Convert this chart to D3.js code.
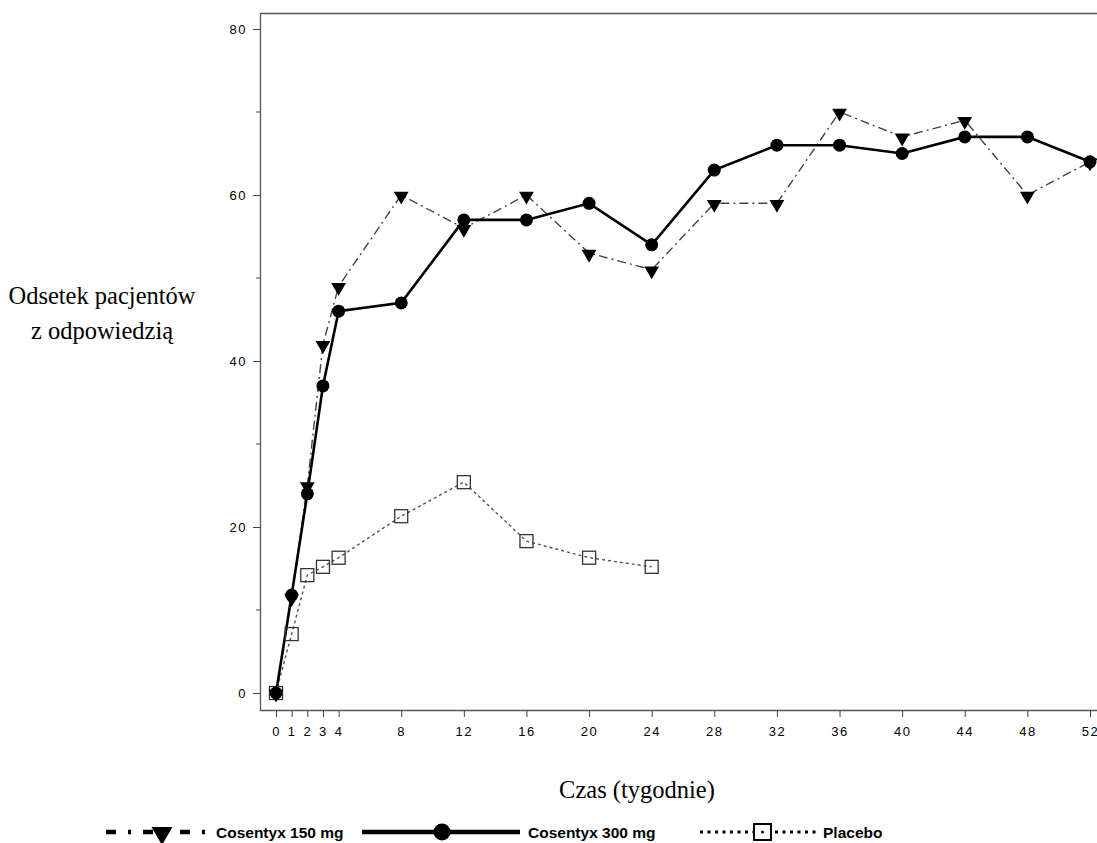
<!DOCTYPE html>
<html>
<head>
<meta charset="utf-8">
<script src="https://cdn.jsdelivr.net/npm/d3@7"></script>
<style>
  body { margin: 0; background: #fff; }
  .tick text { font-family: "Liberation Sans", Arial, sans-serif; font-size: 13px; letter-spacing: 1.5px; fill: #000; }
  .tick line { stroke: #444; }
  .title { font-family: "Liberation Serif", "Times New Roman", serif; font-size: 24.5px; fill: #000; }
  .leg { font-family: "Liberation Sans", Arial, sans-serif; font-size: 15.5px; font-weight: bold; fill: #000; }
</style>
</head>
<body>
<div id="canvas"></div>
<script>
// data (percent of responders)
var weeks150 = [0,1,2,3,4,8,12,16,20,24,28,32,36,40,44,48,52];
var cos150 = [0,11.5,25,42,49,60,56,60,53,51,59,59,70,67,69,60,64];
var weeks300 = [0,1,2,3,4,8,12,16,20,24,28,32,36,40,44,48,52];
var cos300 = [0,11.8,24,37,46,47,57,57,59,54,63,66,66,65,67,67,64];
var weeksPlacebo = [0,1,2,3,4,8,12,16,20,24];
var placebo = [0,7.1,14.2,15.2,16.3,21.3,25.4,18.3,16.3,15.2];
var xTicks = [0,1,2,3,4,8,12,16,20,24,28,32,36,40,44,48,52];
var yTicks = [0,20,40,60,80];
var yMinor = [10,30,50,70];

var W = 1097, H = 843;
var svg = d3.select('#canvas').append('svg')
    .attr('width', W).attr('height', H);

var x = d3.scaleLinear().domain([0,52]).range([276,1090]);
var y = d3.scaleLinear().domain([0,80]).range([693,29]);

// frame (left, top, bottom); right side runs off the page
svg.append('path')
    .attr('d', 'M1100,13.5 H260.5 V710.5 H1100')
    .attr('fill','none').attr('stroke','#555').attr('stroke-width',1.3);

var axisX = d3.axisBottom(x).tickValues(xTicks).tickSize(7).tickPadding(10).tickSizeOuter(0);
var gx = svg.append('g').attr('transform','translate(0,710)').call(axisX);
gx.select('.domain').remove();

var axisY = d3.axisLeft(y).tickValues(yTicks).tickSize(7).tickPadding(6).tickSizeOuter(0);
var gy = svg.append('g').attr('transform','translate(260,0)').call(axisY);
gy.select('.domain').remove();

// minor y ticks
svg.selectAll('.minor').data(yMinor).enter().append('line')
    .attr('x1',256).attr('x2',260)
    .attr('y1',function(d){return y(d);}).attr('y2',function(d){return y(d);})
    .attr('stroke','#444');

function pts(ws, vs){ return ws.map(function(w,i){ return [w, vs[i]]; }); }
var line = d3.line().x(function(d){return x(d[0]);}).y(function(d){return y(d[1]);});

var s150 = pts(weeks150, cos150), s300 = pts(weeks300, cos300), sPl = pts(weeksPlacebo, placebo);

// placebo
svg.append('path').attr('d', line(sPl))
    .attr('fill','none').attr('stroke','#555').attr('stroke-width',1.4).attr('stroke-dasharray','3,3');
// 150 mg
svg.append('path').attr('d', line(s150))
    .attr('fill','none').attr('stroke','#444').attr('stroke-width',1.4).attr('stroke-dasharray','9,4,2,4');
// 300 mg
svg.append('path').attr('d', line(s300))
    .attr('fill','none').attr('stroke','#000').attr('stroke-width',2.6);

var tri = d3.symbol().type(d3.symbolTriangle).size(95);

svg.selectAll('.sq').data(sPl).enter().append('rect')
    .attr('x',function(d){return x(d[0])-6.5;}).attr('y',function(d){return y(d[1])-6.5;})
    .attr('width',13).attr('height',13)
    .attr('fill','none').attr('stroke','#333').attr('stroke-width',1.3);

svg.selectAll('.tri').data(s150).enter().append('path')
    .attr('d', tri)
    .attr('transform',function(d){return 'translate('+x(d[0])+','+(y(d[1])+1)+') rotate(180)';})
    .attr('fill','#000');

svg.selectAll('.dot').data(s300).enter().append('circle')
    .attr('cx',function(d){return x(d[0]);}).attr('cy',function(d){return y(d[1]);})
    .attr('r',6.5).attr('fill','#000');

// titles
svg.append('text').attr('class','title').attr('x',102).attr('y',304)
    .attr('text-anchor','middle').text('Odsetek pacjentów');
svg.append('text').attr('class','title').attr('x',102).attr('y',339)
    .attr('text-anchor','middle').text('z odpowiedzią');
svg.append('text').attr('class','title').attr('x',637).attr('y',798)
    .attr('text-anchor','middle').text('Czas (tygodnie)');

// legend
var ly = 832;
svg.append('line').attr('x1',106).attr('x2',210).attr('y1',ly).attr('y2',ly)
    .attr('stroke','#000').attr('stroke-width',4.5).attr('stroke-dasharray','10,12,3,12');
svg.append('path').attr('d', d3.symbol().type(d3.symbolTriangle).size(190))
    .attr('transform','translate(162,'+(ly+1)+') rotate(180)').attr('fill','#000');
svg.append('text').attr('class','leg').attr('x',216).attr('y',ly+5.5).text('Cosentyx 150 mg');

svg.append('line').attr('x1',362).attr('x2',520).attr('y1',ly).attr('y2',ly)
    .attr('stroke','#000').attr('stroke-width',4.5);
svg.append('circle').attr('cx',442).attr('cy',ly).attr('r',8.5).attr('fill','#000');
svg.append('text').attr('class','leg').attr('x',528).attr('y',ly+5.5).text('Cosentyx 300 mg');

svg.append('line').attr('x1',700).attr('x2',818).attr('y1',ly).attr('y2',ly)
    .attr('stroke','#000').attr('stroke-width',3).attr('stroke-dasharray','3,4.5');
svg.append('rect').attr('x',754).attr('y',ly-8).attr('width',17).attr('height',16)
    .attr('fill','#fff').attr('stroke','#000').attr('stroke-width',2);
svg.append('circle').attr('cx',762.5).attr('cy',ly).attr('r',1.5).attr('fill','#000');
svg.append('text').attr('class','leg').attr('x',823).attr('y',ly+5.5).text('Placebo');
</script>
</body>
</html>
